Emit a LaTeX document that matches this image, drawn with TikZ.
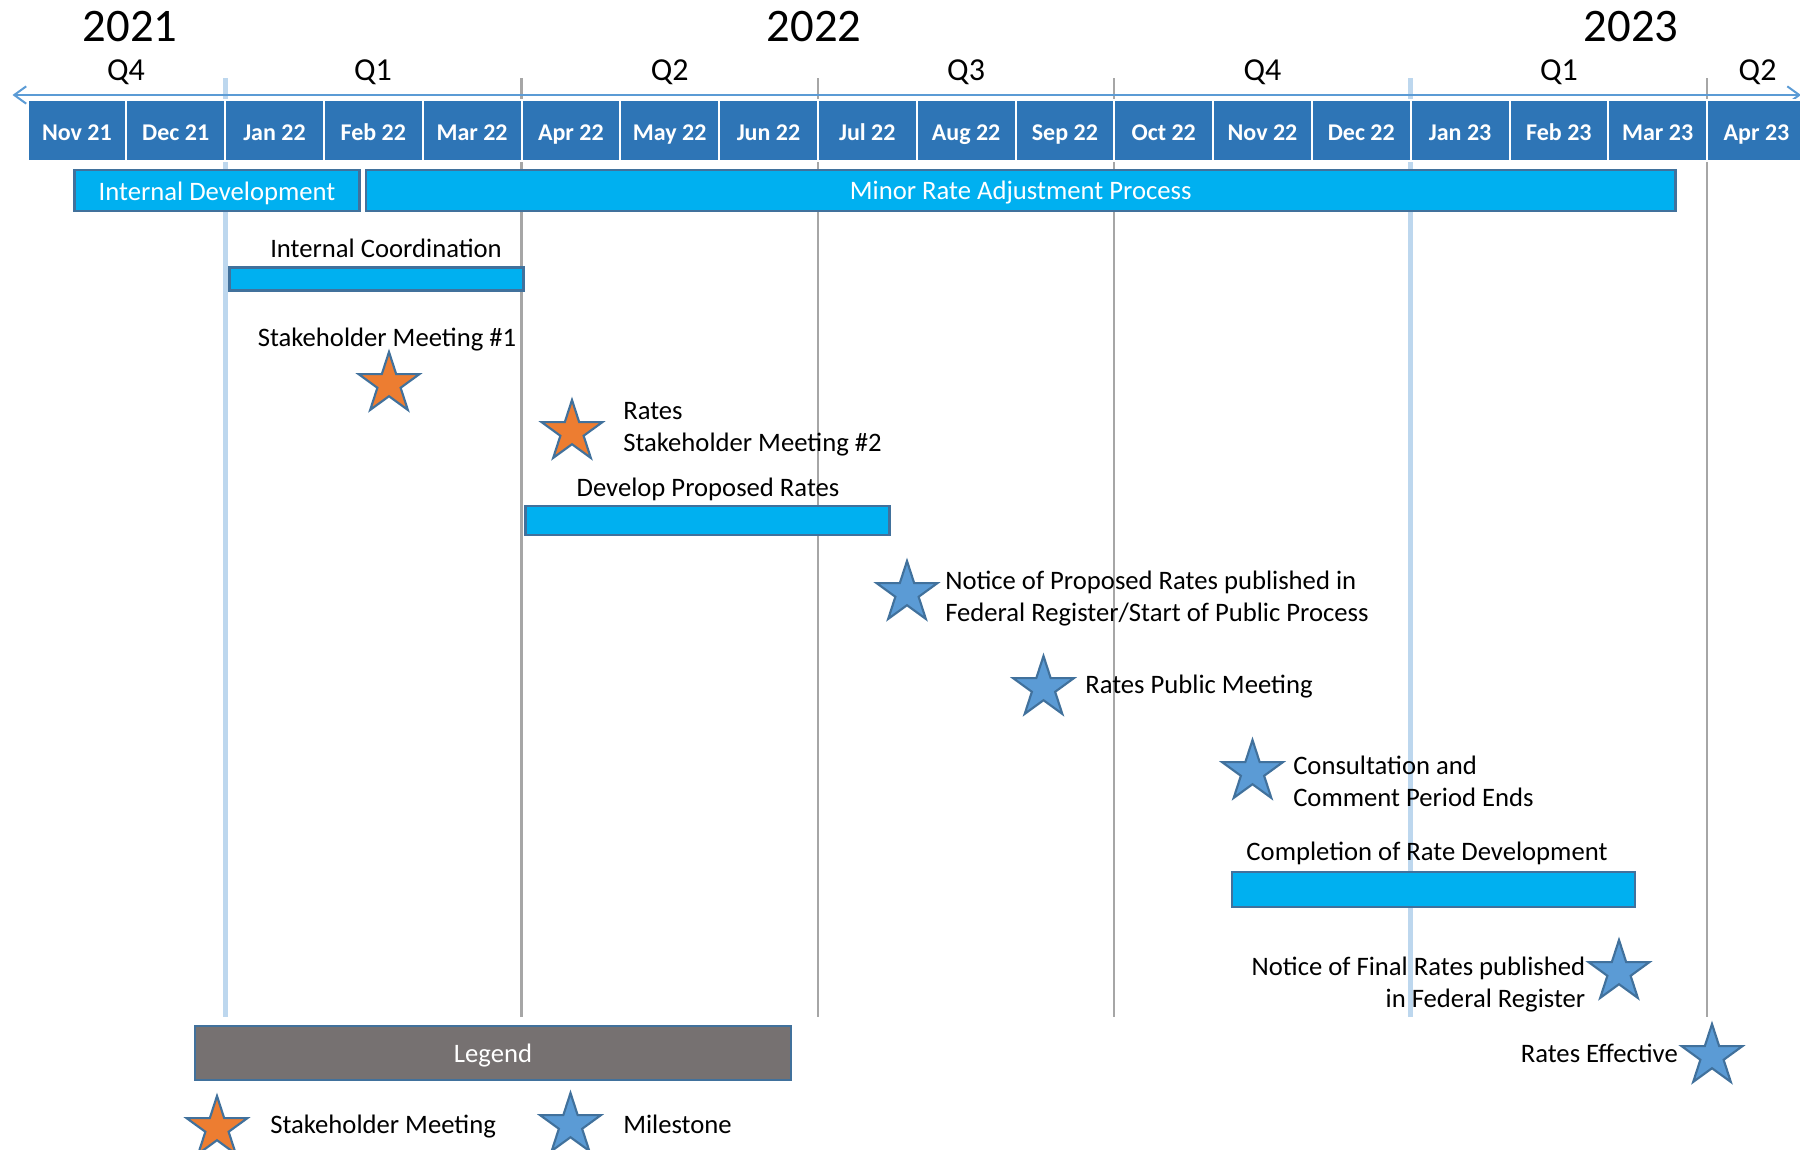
\documentclass[tikz,border=0pt]{standalone}
\usepackage{fontspec}
\setmainfont{Carlito}
\usetikzlibrary{shapes.geometric,arrows.meta}

\definecolor{monthblue}{RGB}{46,117,182}
\definecolor{barcyan}{RGB}{0,176,240}
\definecolor{edgeblue}{RGB}{65,113,156}
\definecolor{axisblue}{RGB}{91,155,213}
\definecolor{yearline}{RGB}{189,215,238}
\definecolor{qline}{RGB}{166,166,166}
\definecolor{smorange}{RGB}{237,125,49}
\definecolor{msblue}{RGB}{91,155,213}
\definecolor{legendgray}{RGB}{118,113,113}

\tikzset{
  txt/.style={font=\fontsize{20}{24}\selectfont, inner sep=0pt},
  month/.style={rectangle, fill=monthblue, draw=white, line width=1.5pt,
    minimum width=74.1pt, minimum height=45.75pt, inner sep=0pt,
    text height=15pt, text depth=0pt,
    text=white, font=\bfseries\fontsize{18}{22}\selectfont},
  quarter/.style={font=\fontsize{24}{29}\selectfont, inner sep=0pt},
  yearlbl/.style={font=\fontsize{35}{42}\selectfont, inner sep=0pt},
  bar/.style={fill=barcyan, draw=edgeblue, line width=2pt},
  bartxt/.style={txt, text=white},
  smstar/.style={star, star points=5, star point ratio=2.618, minimum size=48pt,
    inner sep=0pt, fill=smorange, draw=edgeblue, line width=1.6pt},
  msstar/.style={smstar, fill=msblue},
  yearrule/.style={draw=yearline, line width=3.75pt},
  qrule/.style={draw=qline, line width=1.6pt}
}

\begin{document}
\begin{tikzpicture}[x=0.75pt,y=0.75pt,yscale=-1,xscale=1]
\useasboundingbox (0,0) rectangle (1800,1150);

%Straight Lines: quarter rules
\draw [yearrule] (225.1,78) -- (225.1,1017) ;
\draw [qrule] (521.5,78) -- (521.5,1017) ;
\draw [qrule] (817.9,78) -- (817.9,1017) ;
\draw [qrule] (1114.3,78) -- (1114.3,1017) ;
\draw [yearrule] (1410.7,78) -- (1410.7,1017) ;
\draw [qrule] (1707.1,78) -- (1707.1,1017) ;

%Straight Lines: time axis
\coordinate (axl) at (12.5,95) ;
\coordinate (axr) at (1801,95) ;
\draw [draw=axisblue, line width=1.5pt, {Straight Barb[length=9pt,width=13pt]}-{Straight Barb[length=9pt,width=13pt]}] (axl) -- (axr) ;

% Year Nodes
\node [yearlbl] (y2021) at (130,26.5) {2021};
\node [yearlbl] (y2022) at (814,26.5) {2022};
\node [yearlbl] (y2023) at (1631,26.5) {2023};

% Quarter Nodes
\node [quarter] (q4a) at (126,72) {Q4};
\node [quarter] (q1a) at (373,72) {Q1};
\node [quarter] (q2a) at (669.7,72) {Q2};
\node [quarter] (q3a) at (966.1,72) {Q3};
\node [quarter] (q4b) at (1262.5,72) {Q4};
\node [quarter] (q1b) at (1558.9,72) {Q1};
\node [quarter] (q2b) at (1757.6,72) {Q2};

% Month Nodes
\node [month] (nov21) at (76.9,130.5) {Nov 21};
\node [month] (dec21) at (175.7,130.5) {Dec 21};
\node [month] (jan22) at (274.5,130.5) {Jan 22};
\node [month] (feb22) at (373.3,130.5) {Feb 22};
\node [month] (mar22) at (472.1,130.5) {Mar 22};
\node [month] (apr22) at (570.9,130.5) {Apr 22};
\node [month] (may22) at (669.7,130.5) {May 22};
\node [month] (jun22) at (768.5,130.5) {Jun 22};
\node [month] (jul22) at (867.3,130.5) {Jul 22};
\node [month] (aug22) at (966.1,130.5) {Aug 22};
\node [month] (sep22) at (1064.9,130.5) {Sep 22};
\node [month] (oct22) at (1163.7,130.5) {Oct 22};
\node [month] (nov22) at (1262.5,130.5) {Nov 22};
\node [month] (dec22) at (1361.3,130.5) {Dec 22};
\node [month] (jan23) at (1460.1,130.5) {Jan 23};
\node [month] (feb23) at (1558.9,130.5) {Feb 23};
\node [month] (mar23) at (1657.7,130.5) {Mar 23};
\node [month] (apr23) at (1756.5,130.5) {Apr 23};

%Shape: Rectangle
\draw [bar] (74.6,170) rectangle (359.5,211) ;
%Shape: Rectangle
\draw [bar] (366,170) rectangle (1675.5,211) ;
%Shape: Rectangle
\draw [bar] (229.6,267.5) rectangle (523.5,290.5) ;
%Shape: Rectangle
\draw [bar] (525.8,506) rectangle (889.7,535) ;
%Shape: Rectangle
\draw [bar] (1232,872) rectangle (1635,907) ;
%Shape: Rectangle
\draw [bar, fill=legendgray] (195,1026) rectangle (791,1080) ;

% Text Node
\node [bartxt] (intdev) at (217,193) {Internal Development};
% Text Node
\node [bartxt] (minor) at (1020.7,193) {Minor Rate Adjustment Process};
% Text Node
\node [txt] (intcoord) at (386,248) {Internal Coordination};
% Text Node
\node [txt] (develop) at (708,489) {Develop Proposed Rates};
% Text Node
\node [txt] (complete) at (1427,853.5) {Completion of Rate Development};
% Text Node
\node [bartxt] (legend) at (493,1056) {Legend};

%Shape: Star
\node [smstar] (sm1) at (389,384) {};
\node [smstar] (sm2) at (572,432) {};
\node [msstar] (noticeprop) at (907,593) {};
\node [msstar] (pubmeet) at (1043.5,688) {};
\node [msstar] (consult) at (1252.5,772) {};
\node [msstar] (noticefinal) at (1619,972) {};
\node [msstar] (effective) at (1712,1056) {};
\node [smstar] (keysm) at (217,1128) {};
\node [msstar] (keyms) at (570.5,1125) {};

% Text Node
\node [txt] (sm1lbl) at (387,340) {Stakeholder Meeting \#1};
% Text Node
\node [txt, anchor=west, align=left] (sm2lbl) at (623,429.5) {Rates\\Stakeholder Meeting \#2};
% Text Node
\node [txt, anchor=west, align=left] (noticeproplbl) at (945,598.5) {Notice of Proposed Rates published in\\Federal Register/Start of Public Process};
% Text Node
\node [txt, anchor=west] (pubmeetlbl) at (1085,686.5) {Rates Public Meeting};
% Text Node
\node [txt, anchor=west, align=left] (consultlbl) at (1293,781) {Consultation and\\Comment Period Ends};
% Text Node
\node [txt, anchor=east, align=right] (noticefinallbl) at (1585.5,985) {Notice of Final Rates published\\in Federal Register};
% Text Node
\node [txt, anchor=east] (effectivelbl) at (1678,1053) {Rates Effective};
% Text Node
\node [txt, anchor=west] (keysmlbl) at (270,1126.5) {Stakeholder Meeting};
% Text Node
\node [txt, anchor=west] (keymslbl) at (623,1124) {Milestone};

\end{tikzpicture}
\end{document}
